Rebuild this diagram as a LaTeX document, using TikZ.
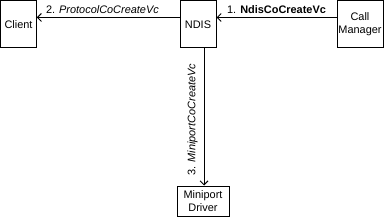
\documentclass[tikz,border=0pt]{standalone}
\usepackage{fontspec}
\setmainfont{Liberation Sans}
\usepackage{tikz}
\usetikzlibrary{arrows.meta, positioning}

\begin{document}
\begin{tikzpicture}[x=0.75pt, y=-0.75pt, font=\fontsize{8.2}{9.6}\selectfont, align=center,
  box/.style={draw, line width=0.75pt, inner sep=0pt},
  call/.style={draw, line width=0.75pt, -{Straight Barb[length=3pt, width=6pt]}}]
  \useasboundingbox (0,0) rectangle (385,217);

  % Components
  \node (client) [box, minimum width=35.5*0.75pt, minimum height=47.5*0.75pt] at (18.5,24.25) {Client};
  \node (ndis) [box, minimum width=36*0.75pt, minimum height=47.5*0.75pt] at (198,24.25) {NDIS};
  \node (cm) [box, minimum width=46*0.75pt, minimum height=47.5*0.75pt] at (360,24.25) {Call\\Manager};
  \node (mp) [box, minimum width=52*0.75pt, minimum height=30.5*0.75pt] at (203,201.25) {Miniport\\Driver};

  % Calls
  \draw[call] (cm.west |- 0,17.5) -- node[above=-1pt] {1. \textbf{NdisCoCreateVc}} (ndis.east |- 0,17.5);
  \draw[call] (ndis.west |- 0,17.5) -- node[above=-1pt, pos=0.54] {2. \textit{ProtocolCoCreateVc}} (client.east |- 0,17.5);
  \draw[call] (ndis.south -| 204,0) -- node[above=-1pt, sloped, rotate=180, pos=0.52] {3. \textit{MiniportCoCreateVc}} (mp.north -| 204,0);

\end{tikzpicture}
\end{document}
